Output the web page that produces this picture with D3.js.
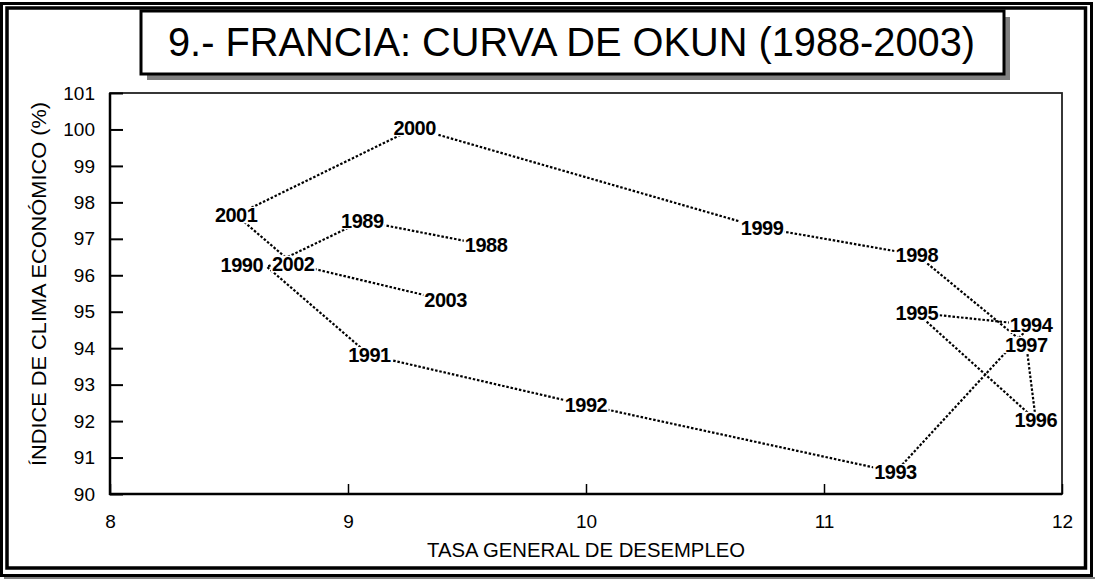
<!DOCTYPE html>
<html>
<head>
<meta charset="utf-8">
<script src="https://cdn.jsdelivr.net/npm/d3@7"></script>
<style>
  html, body { margin: 0; padding: 0; background: #fff; }
  svg { display: block; }
  text { font-family: "Liberation Sans", Arial, sans-serif; fill: #000; }
</style>
</head>
<body>
<svg id="chart" width="1095" height="579"></svg>
<script>
// ---- data ----
const years = [1988, 1989, 1990, 1991, 1992, 1993, 1994, 1995, 1996, 1997, 1998, 1999, 2000, 2001, 2002, 2003];
const unemployment = [9.58, 9.06, 8.66, 9.09, 10.00, 11.30, 11.87, 11.39, 11.89, 11.85, 11.39, 10.74, 9.28, 8.53, 8.77, 9.41];
const climate = [96.83, 97.49, 96.23, 93.81, 92.44, 90.60, 94.64, 94.97, 92.03, 94.09, 96.56, 97.30, 100.04, 97.65, 96.31, 95.32];
const xTicks = [8, 9, 10, 11, 12];
const yTicks = [90, 91, 92, 93, 94, 95, 96, 97, 98, 99, 100, 101];
const titleText = "9.- FRANCIA: CURVA DE OKUN (1988-2003)";
const xTitle = "TASA GENERAL DE DESEMPLEO";
const yTitle = "ÍNDICE DE CLIMA ECONÓMICO (%)";

// label placement overrides (layout only)
const labelPlacement = { 1990: { anchor: "end", dx: -4, dy: -2 } };

const points = years.map((yr, i) => ({ year: yr, x: unemployment[i], y: climate[i] }));

// ---- layout ----
const svg = d3.select("#chart");
const W = 1095, H = 579;
const plot = { left: 110, right: 1062, top: 93, bottom: 494 };

svg.append("rect").attr("width", W).attr("height", H).attr("fill", "#fff");

// outer frame with shadow
svg.append("rect").attr("x", 4).attr("y", 577).attr("width", W - 4).attr("height", 2).attr("fill", "#808080");
svg.append("rect").attr("x", 1.5).attr("y", 3.5).attr("width", 1090).attr("height", 572)
  .attr("fill", "none").attr("stroke", "#000").attr("stroke-width", 3);
svg.append("rect").attr("x", 7).attr("y", 8).attr("width", 1078.5).attr("height", 560)
  .attr("fill", "none").attr("stroke", "#000").attr("stroke-width", 3.5);

// title box
svg.append("rect").attr("x", 147).attr("y", 17).attr("width", 863).attr("height", 63).attr("fill", "#808080");
svg.append("rect").attr("x", 141).attr("y", 11).attr("width", 863).attr("height", 63)
  .attr("fill", "#fff").attr("stroke", "#000").attr("stroke-width", 3);
svg.append("text").attr("x", 571.5).attr("y", 56).attr("text-anchor", "middle")
  .attr("font-size", 40).attr("textLength", 807).attr("lengthAdjust", "spacingAndGlyphs")
  .text(titleText);

// scales
const x = d3.scaleLinear().domain([8, 12]).range([plot.left, plot.right]);
const y = d3.scaleLinear().domain([90, 101]).range([plot.bottom, plot.top]);

// plot border
svg.append("rect").attr("x", plot.left).attr("y", plot.top)
  .attr("width", plot.right - plot.left).attr("height", plot.bottom - plot.top)
  .attr("fill", "none").attr("stroke", "#222").attr("stroke-width", 1.8);

// axes
const yAxis = svg.append("g").attr("transform", `translate(${plot.left},0)`)
  .call(d3.axisLeft(y).tickValues(yTicks).tickSize(-13).tickPadding(15).tickFormat(d3.format("d")));
yAxis.select(".domain").remove();
yAxis.selectAll(".tick line").attr("stroke", "#000").attr("stroke-width", 2);
yAxis.selectAll(".tick text").attr("font-size", 19).attr("font-family", "Liberation Sans, Arial, sans-serif").attr("fill", "#000");

const xAxis = svg.append("g").attr("transform", `translate(0,${plot.bottom})`)
  .call(d3.axisBottom(x).tickValues(xTicks).tickSize(-10).tickPadding(21).tickFormat(d3.format("d")));
xAxis.select(".domain").remove();
xAxis.selectAll(".tick line").attr("stroke", "#000").attr("stroke-width", 1.5);
xAxis.selectAll(".tick text").attr("font-size", 19).attr("font-family", "Liberation Sans, Arial, sans-serif").attr("fill", "#000");

// thicker left & bottom axis lines
svg.append("line").attr("x1", plot.left).attr("x2", plot.left).attr("y1", plot.top).attr("y2", plot.bottom + 1)
  .attr("stroke", "#000").attr("stroke-width", 2.5);
svg.append("line").attr("x1", plot.left - 1).attr("x2", plot.right).attr("y1", plot.bottom).attr("y2", plot.bottom)
  .attr("stroke", "#000").attr("stroke-width", 2.5);

// axis titles
svg.append("text").attr("x", (plot.left + plot.right) / 2).attr("y", 557).attr("text-anchor", "middle")
  .attr("font-size", 20).attr("textLength", 318).attr("lengthAdjust", "spacingAndGlyphs").text(xTitle);
svg.append("text").attr("transform", `translate(46,284) rotate(-90)`).attr("text-anchor", "middle")
  .attr("font-size", 20).attr("textLength", 364).attr("lengthAdjust", "spacingAndGlyphs").text(yTitle);

// dotted line in year order
const line = d3.line().x(d => x(d.x)).y(d => y(d.y));
svg.append("path").datum(points).attr("d", line)
  .attr("fill", "none").attr("stroke", "#000").attr("stroke-width", 2.2)
  .attr("stroke-dasharray", "2.5,1.8");

// labels with white backing
const fs = 20;
const lg = svg.append("g");
points.forEach(p => {
  const pl = labelPlacement[p.year] || { anchor: "middle", dx: 0, dy: 0 };
  const cx = x(p.x) + pl.dx, cy = y(p.y) + pl.dy;
  const g = lg.append("g");
  const rect = g.append("rect").attr("fill", "#fff");
  const t = g.append("text").attr("x", cx).attr("y", cy + 0.36 * fs)
    .attr("text-anchor", pl.anchor).attr("font-size", fs).attr("font-weight", "bold")
    .attr("letter-spacing", -0.5)
    .text(p.year);
  const bb = t.node().getBBox();
  rect.attr("x", bb.x - 1).attr("y", cy - 0.36 * fs - 1).attr("width", bb.width + 2).attr("height", 0.72 * fs + 2);
});
</script>
</body>
</html>
